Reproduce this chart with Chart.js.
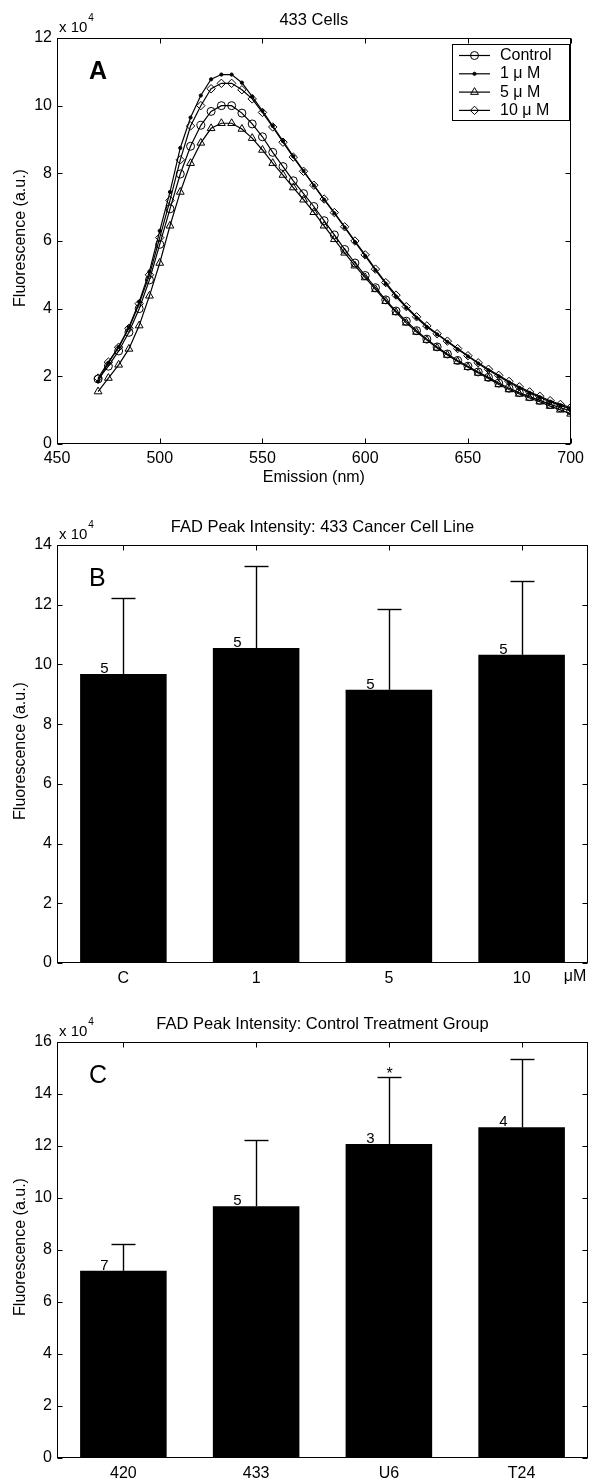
<!DOCTYPE html>
<html><head><meta charset="utf-8">
<script src="https://cdn.jsdelivr.net/npm/chart.js@4.4.1/dist/chart.umd.min.js"></script>
<style>
html,body{margin:0;padding:0;background:#fff;}
#wrap{position:relative;width:589px;height:1480px;overflow:hidden;background:#fff;}
canvas{position:absolute;left:0;}
</style></head><body>
<div id="wrap">
<canvas id="cA" width="589" height="490" style="top:0px"></canvas>
<canvas id="cB" width="589" height="500" style="top:490px"></canvas>
<canvas id="cC" width="589" height="490" style="top:990px"></canvas>
</div>
<script>
const FONT = "'Liberation Sans', Arial, Helvetica, sans-serif";

// ---------- Panel A: emission spectra (values in units of 10^4) ----------
const emission = [470,475,480,485,490,495,500,505,510,515,520,525,530,535,540,545,550,555,560,565,570,575,580,585,590,595,600,605,610,615,620,625,630,635,640,645,650,655,660,665,670,675,680,685,690,695,700];
const control = [1.92,2.30,2.75,3.30,4.00,4.85,5.90,6.95,7.98,8.80,9.42,9.83,10.00,10.00,9.78,9.46,9.08,8.62,8.20,7.78,7.40,7.02,6.60,6.18,5.75,5.35,4.98,4.62,4.26,3.93,3.63,3.35,3.10,2.87,2.66,2.47,2.30,2.13,1.97,1.80,1.65,1.52,1.40,1.29,1.17,1.07,0.98];
const um1 = [1.85,2.40,2.87,3.45,4.20,5.10,6.30,7.45,8.75,9.65,10.30,10.78,10.92,10.92,10.68,10.27,9.85,9.40,8.95,8.50,8.07,7.64,7.22,6.82,6.40,5.97,5.56,5.14,4.74,4.36,4.03,3.73,3.46,3.24,3.02,2.80,2.59,2.38,2.18,2.00,1.82,1.66,1.51,1.38,1.25,1.14,1.04];
const um5 = [1.55,1.95,2.34,2.81,3.50,4.38,5.35,6.45,7.45,8.30,8.90,9.33,9.48,9.48,9.31,9.04,8.69,8.30,7.95,7.58,7.22,6.85,6.45,6.05,5.65,5.27,4.92,4.57,4.22,3.89,3.58,3.31,3.07,2.84,2.63,2.44,2.27,2.10,1.94,1.76,1.61,1.48,1.36,1.25,1.12,1.01,0.89];
const um10 = [1.95,2.42,2.86,3.42,4.15,5.00,6.10,7.20,8.40,9.40,10.00,10.50,10.66,10.66,10.47,10.20,9.80,9.37,8.92,8.48,8.06,7.65,7.24,6.84,6.42,6.00,5.59,5.17,4.77,4.40,4.06,3.76,3.49,3.26,3.04,2.82,2.61,2.40,2.21,2.03,1.85,1.69,1.54,1.41,1.28,1.17,1.08];
const seriesNames = ['Control', '1 \u03bc M', '5 \u03bc M', '10 \u03bc M'];

// ---------- Panel B: FAD peak intensity, 433 line, by dose ----------
const doseLabels = ['C', '1', '5', '10'];
const doseMeans = [9.68, 10.55, 9.15, 10.32];
const doseSD = [2.55, 2.75, 2.70, 2.48];
const doseN = [5, 5, 5, 5];

// ---------- Panel C: FAD peak intensity, control group, by cell line ----------
const lineLabels = ['420', '433', 'U6', 'T24'];
const lineMeans = [7.20, 9.68, 12.08, 12.72];
const lineSD = [1.05, 2.55, 2.58, 2.63];
const lineN = [7, 5, 3, 4];
const lineSig = ['', '', '*', ''];

// ---------- helpers ----------
function line(ctx, x1, y1, x2, y2) { ctx.beginPath(); ctx.moveTo(x1, y1); ctx.lineTo(x2, y2); ctx.stroke(); }

const framePlugin = {
  id: 'frame',
  afterDraw(chart) {
    const { ctx, chartArea: a, scales } = chart;
    ctx.save();
    ctx.strokeStyle = '#000'; ctx.lineWidth = 1;
    const L = Math.round(a.left) + 0.5, R = Math.round(a.right) - 0.5, T = Math.round(a.top) + 0.5, B = Math.round(a.bottom) - 0.5;
    ctx.strokeRect(L, T, R - L, B - T);
    const tl = 5;
    scales.x.ticks.forEach((t, i) => {
      const x = Math.round(scales.x.getPixelForTick(i)) + 0.5;
      line(ctx, x, B, x, B - tl); line(ctx, x, T, x, T + tl);
    });
    scales.y.ticks.forEach((t, i) => {
      const y = Math.round(scales.y.getPixelForTick(i)) + 0.5;
      line(ctx, L, y, L + tl, y); line(ctx, R, y, R - tl, y);
    });
    ctx.restore();
  }
};

const textPlugin = {
  id: 'texts',
  afterDraw(chart, args, o) {
    const { ctx, chartArea: a } = chart;
    ctx.save();
    ctx.fillStyle = '#000';
    const cx = (a.left + a.right) / 2, cy = (a.top + a.bottom) / 2;
    // title
    ctx.font = '16.5px ' + FONT; ctx.textAlign = 'center'; ctx.textBaseline = 'middle';
    ctx.fillText(o.title, cx, a.top - 18);
    // x 10^4
    ctx.textAlign = 'left';
    ctx.font = '15px ' + FONT;
    ctx.fillText('x 10', a.left + 2, a.top - 10);
    const w = ctx.measureText('x 10').width;
    ctx.font = '10px ' + FONT;
    ctx.fillText('4', a.left + 3 + w, a.top - 20);
    // y title
    ctx.save();
    ctx.translate(21, cy - 3); ctx.rotate(-Math.PI / 2);
    ctx.font = '16px ' + FONT; ctx.textAlign = 'center'; ctx.textBaseline = 'middle';
    ctx.fillText('Fluorescence (a.u.)', 0, 0);
    ctx.restore();
    // x title
    if (o.xTitle) {
      ctx.font = '16px ' + FONT; ctx.textAlign = 'center'; ctx.textBaseline = 'middle';
      ctx.fillText(o.xTitle, cx, a.bottom + 34);
    }
    // panel letter
    ctx.font = (o.bold ? 'bold ' : '') + '25px ' + FONT; ctx.textAlign = 'left'; ctx.textBaseline = 'middle';
    ctx.fillText(o.letter, a.left + 32, a.top + 34);
    // extra unit label
    if (o.unit) {
      ctx.font = '16px ' + FONT; ctx.textAlign = 'center'; ctx.textBaseline = 'middle';
      ctx.fillText(o.unit, a.right - 13, a.bottom + 14);
    }
    ctx.restore();
  }
};

const errPlugin = {
  id: 'errbars',
  afterDatasetsDraw(chart, args, o) {
    const { ctx, scales: { x, y } } = chart;
    ctx.save();
    ctx.strokeStyle = '#000'; ctx.lineWidth = 1.4; ctx.fillStyle = '#000';
    o.means.forEach((m, i) => {
      const px = Math.round(x.getPixelForValue(i)) + 0.5;
      const yb = y.getPixelForValue(m), yt = Math.round(y.getPixelForValue(m + o.sd[i])) + 0.5;
      line(ctx, px, yb, px, yt);
      line(ctx, px - 12, yt, px + 12, yt);
      ctx.font = '15px ' + FONT; ctx.textAlign = 'center'; ctx.textBaseline = 'alphabetic';
      ctx.fillText(String(o.n[i]), px - 19, yb - 1);
      if (o.sig && o.sig[i]) {
        ctx.font = '16px ' + FONT; ctx.textBaseline = 'alphabetic';
        ctx.fillText(o.sig[i], px, yt + 1);
      }
    });
    ctx.restore();
  }
};

const legendPlugin = {
  id: 'mlegend',
  afterDraw(chart) {
    const { ctx } = chart;
    const box = { l: 452.5, t: 44.5, r: 569.5, b: 120.5 };
    ctx.save();
    ctx.fillStyle = '#fff'; ctx.fillRect(box.l, box.t, box.r - box.l, box.b - box.t);
    ctx.strokeStyle = '#000'; ctx.lineWidth = 1; ctx.strokeRect(box.l, box.t, box.r - box.l, box.b - box.t);
    chart.data.datasets.forEach((ds, i) => {
      const y = 55.5 + i * 18.3;
      ctx.strokeStyle = '#000'; ctx.lineWidth = 1.2;
      line(ctx, 459, y, 490, y);
      ctx.lineWidth = 1;
      ctx.fillStyle = ds.pointBackgroundColor;
      Chart.helpers.drawPoint(ctx, { pointStyle: ds.pointStyle, radius: ds.pointRadius, borderWidth: 1, rotation: 0 }, 474.5, y);
      ctx.fillStyle = '#000';
      ctx.font = '16px ' + FONT; ctx.textAlign = 'left'; ctx.textBaseline = 'middle';
      ctx.fillText(ds.label, 500, y);
    });
    ctx.restore();
  }
};

const tickFont = { family: FONT, size: 16 };

// ---------- Chart A ----------
function mk(label, ys, style, r, bg) {
  return {
    label, data: emission.map((x, i) => ({ x, y: ys[i] })),
    borderColor: '#000', borderWidth: 1.2, pointStyle: style, pointRadius: r,
    pointBorderColor: '#000', pointBorderWidth: 1, pointBackgroundColor: bg, tension: 0, fill: false
  };
}
new Chart(document.getElementById('cA'), {
  type: 'line',
  data: { datasets: [
    mk(seriesNames[0], control, 'circle', 4, 'rgba(0,0,0,0)'),
    mk(seriesNames[1], um1, 'circle', 1.6, '#000'),
    mk(seriesNames[2], um5, 'triangle', 4.5, 'rgba(0,0,0,0)'),
    mk(seriesNames[3], um10, 'rectRot', 4.2, 'rgba(0,0,0,0)')
  ] },
  options: {
    responsive: false, animation: false, devicePixelRatio: 1,
    layout: { padding: { left: 0, top: 38, right: 15, bottom: 0 } },
    plugins: { legend: { display: false }, tooltip: { enabled: false },
      texts: { title: '433 Cells', letter: 'A', bold: true, xTitle: 'Emission (nm)' } },
    scales: {
      x: { type: 'linear', min: 450, max: 700, grid: { display: false, drawTicks: false }, border: { display: false },
        ticks: { stepSize: 50, font: tickFont, color: '#000', padding: 5, maxRotation: 0 },
        afterFit: s => { s.height = 46; } },
      y: { type: 'linear', min: 0, max: 12, grid: { display: false, drawTicks: false }, border: { display: false },
        ticks: { stepSize: 2, font: tickFont, color: '#000', padding: 5 },
        afterFit: s => { s.width = 57; } }
    }
  },
  plugins: [framePlugin, textPlugin, legendPlugin]
});

// ---------- Bar chart factory ----------
function barChart(id, labels, means, sd, n, sig, ymax, opts) {
  return new Chart(document.getElementById(id), {
    type: 'bar',
    data: { labels, datasets: [{ data: means, backgroundColor: '#000', borderWidth: 0, barPercentage: 0.652, categoryPercentage: 1.0 }] },
    options: {
      responsive: false, animation: false, devicePixelRatio: 1,
      layout: { padding: { left: 0, top: opts.top, right: 1, bottom: 0 } },
      plugins: { legend: { display: false }, tooltip: { enabled: false },
        texts: opts.texts, errbars: { means, sd, n, sig } },
      scales: {
        x: { type: 'category', offset: true, grid: { display: false, drawTicks: false }, border: { display: false },
          ticks: { font: tickFont, color: '#000', padding: 6, maxRotation: 0 },
          afterFit: s => { s.height = opts.xh; } },
        y: { type: 'linear', min: 0, max: ymax, grid: { display: false, drawTicks: false }, border: { display: false },
          ticks: { stepSize: 2, font: tickFont, color: '#000', padding: 5 },
          afterFit: s => { s.width = 57; } }
      }
    },
    plugins: [errPlugin, framePlugin, textPlugin]
  });
}

barChart('cB', doseLabels, doseMeans, doseSD, doseN, null, 14,
  { top: 55, xh: 27, texts: { title: 'FAD Peak Intensity: 433 Cancer Cell Line', letter: 'B', bold: false, unit: '\u03bcM' } });
barChart('cC', lineLabels, lineMeans, lineSD, lineN, lineSig, 16,
  { top: 52, xh: 22, texts: { title: 'FAD Peak Intensity: Control Treatment Group', letter: 'C', bold: false } });
</script>
</body></html>
